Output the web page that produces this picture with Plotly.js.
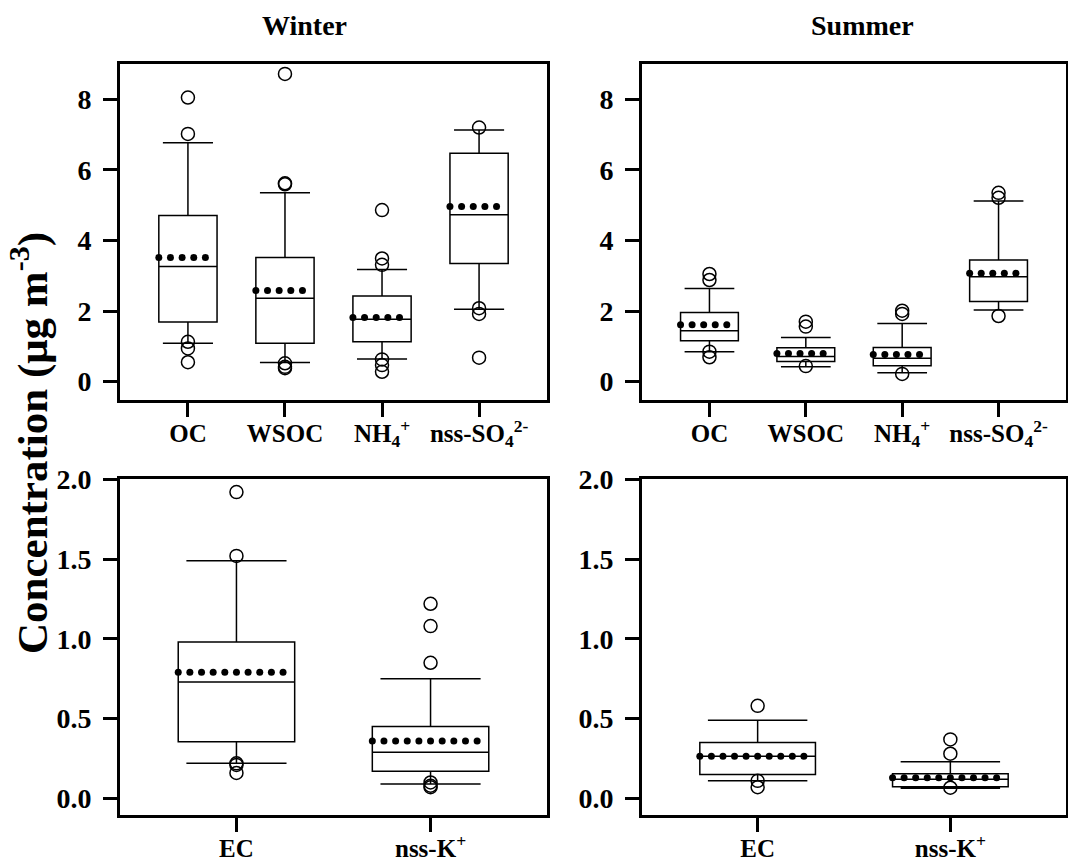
<!DOCTYPE html>
<html><head><meta charset="utf-8">
<script src="https://cdn.plot.ly/plotly-3.0.1.min.js"></script>
<style>html,body{margin:0;padding:0;background:#fff}</style>
</head><body><div id="chart" style="width:1068px;height:865px"></div>
<script>
// ---------- data ----------
const topCategories = ['OC', 'WSOC', 'NH<sub>4</sub><sup>+</sup>', 'nss-SO<sub>4</sub><sup>2-</sup>'];
const bottomCategories = ['EC', 'nss-K<sup>+</sup>'];

// Winter, top panel (µg m-3)
const winterTopLower  = [1.09, 0.54, 0.64, 2.05];
const winterTopQ1     = [1.69, 1.09, 1.13, 3.35];
const winterTopMedian = [3.26, 2.36, 1.77, 4.73];
const winterTopQ3     = [4.71, 3.52, 2.43, 6.47];
const winterTopUpper  = [6.77, 5.35, 3.18, 7.13];
const winterTopMean   = [3.52, 2.58, 1.82, 4.96];
const winterTopOutliers = [
  [8.05, 7.02, 1.13, 0.94, 0.55],
  [8.72, 5.62, 5.59, 0.52, 0.42, 0.38],
  [4.86, 3.49, 3.31, 0.63, 0.47, 0.28],
  [7.20, 2.08, 1.92, 0.68]
];

// Summer, top panel
const summerTopLower  = [0.85, 0.42, 0.25, 2.03];
const summerTopQ1     = [1.16, 0.57, 0.45, 2.27];
const summerTopMedian = [1.44, 0.71, 0.66, 2.97];
const summerTopQ3     = [1.96, 0.96, 0.97, 3.45];
const summerTopUpper  = [2.64, 1.25, 1.65, 5.12];
const summerTopMean   = [1.61, 0.80, 0.77, 3.07];
const summerTopOutliers = [
  [3.05, 2.88, 0.85, 0.69],
  [1.70, 1.56, 0.44],
  [2.01, 1.92, 0.22],
  [5.35, 5.21, 1.86]
];

// Winter, bottom panel
const winterBotLower  = [0.22, 0.09];
const winterBotQ1     = [0.355, 0.17];
const winterBotMedian = [0.73, 0.29];
const winterBotQ3     = [0.98, 0.45];
const winterBotUpper  = [1.49, 0.75];
const winterBotMean   = [0.79, 0.36];
const winterBotOutliers = [
  [1.92, 1.52, 0.22, 0.21, 0.16],
  [1.22, 1.08, 0.85, 0.10, 0.08, 0.07]
];

// Summer, bottom panel
const summerBotLower  = [0.11, 0.063];
const summerBotQ1     = [0.15, 0.073];
const summerBotMedian = [0.265, 0.12];
const summerBotQ3     = [0.35, 0.155];
const summerBotUpper  = [0.49, 0.23];
const summerBotMean   = [0.265, 0.13];
const summerBotOutliers = [
  [0.58, 0.11, 0.07],
  [0.37, 0.28, 0.067]
];

const yTitle = 'Concentration (μg m<sup>-3</sup>)';
const panelTitles = ['Winter', 'Summer'];

// ---------- build ----------
const W = 1068, H = 865;
const FONT = 'Liberation Serif, Times New Roman, serif';
const BOXW = 0.6;
const traces = [];

function addPanel(xa, ya, lower, q1, med, q3, upper, mean, outliers, nDots) {
  const xs = lower.map((_, i) => i);
  traces.push({
    type: 'box', xaxis: xa, yaxis: ya, x: xs,
    lowerfence: lower, q1: q1, median: med, q3: q3, upperfence: upper,
    width: BOXW, whiskerwidth: 0.86, boxpoints: false,
    line: {color: '#000', width: 1.5}, fillcolor: 'rgba(255,255,255,0)',
    hoverinfo: 'skip', showlegend: false
  });
  const ox = [], oy = [];
  outliers.forEach((arr, i) => arr.forEach(v => { ox.push(i); oy.push(v); }));
  traces.push({
    type: 'scatter', mode: 'markers', xaxis: xa, yaxis: ya, x: ox, y: oy,
    marker: {symbol: 'circle-open', size: 13, color: '#000', line: {width: 1.5, color: '#000'}},
    showlegend: false, hoverinfo: 'skip', cliponaxis: false
  });
  const dx = [], dy = [];
  mean.forEach((m, i) => {
    for (let k = 0; k < nDots; k++) { dx.push(i - BOXW / 2 + k * BOXW / nDots); dy.push(m); }
  });
  traces.push({
    type: 'scatter', mode: 'markers', xaxis: xa, yaxis: ya, x: dx, y: dy,
    marker: {symbol: 'circle', size: 7, color: '#000'},
    showlegend: false, hoverinfo: 'skip'
  });
}

addPanel('x', 'y', winterTopLower, winterTopQ1, winterTopMedian, winterTopQ3, winterTopUpper, winterTopMean, winterTopOutliers, 5);
addPanel('x2', 'y2', summerTopLower, summerTopQ1, summerTopMedian, summerTopQ3, summerTopUpper, summerTopMean, summerTopOutliers, 5);
addPanel('x3', 'y3', winterBotLower, winterBotQ1, winterBotMedian, winterBotQ3, winterBotUpper, winterBotMean, winterBotOutliers, 10);
addPanel('x4', 'y4', summerBotLower, summerBotQ1, summerBotMedian, summerBotQ3, summerBotUpper, summerBotMean, summerBotOutliers, 10);

const xTickFont = {family: FONT, size: 25, color: '#000', weight: 700};
const yTickFont = {family: FONT, size: 28, color: '#000', weight: 700};
function xAxis(anchor, domPx, cats, range) {
  return {
    anchor: anchor, domain: [domPx[0] / W, domPx[1] / W], range: range,
    tickmode: 'array', tickvals: cats.map((_, i) => i), ticktext: cats,
    showline: true, mirror: true, linecolor: '#000', linewidth: 3,
    ticks: 'outside', ticklen: 14, tickwidth: 3, tickcolor: '#000',
    showgrid: false, zeroline: false, tickfont: xTickFont, ticklabelstandoff: -5
  };
}
function yAxis(anchor, domPx, range, dtick, fmt) {
  return {
    anchor: anchor, domain: [1 - domPx[1] / H, 1 - domPx[0] / H], range: range,
    tick0: 0, dtick: dtick, tickformat: fmt,
    showline: true, mirror: true, linecolor: '#000', linewidth: 3,
    ticks: 'outside', ticklen: 14, tickwidth: 3, tickcolor: '#000',
    showgrid: false, zeroline: false, tickfont: yTickFont, ticklabelstandoff: 6
  };
}

const leftPx = [120, 547], rightPx = [642, 1066];
const topPx = [64, 400], botPx = [479, 815];

const layout = {
  width: W, height: H, margin: {l: 0, r: 0, t: 0, b: 0},
  paper_bgcolor: '#fff', plot_bgcolor: '#fff', showlegend: false,
  font: {family: FONT, color: '#000'},
  xaxis:  xAxis('y',  leftPx,  topCategories, [-0.7, 3.7]),
  yaxis:  yAxis('x',  topPx,   [-0.52, 9.0], 2, 'd'),
  xaxis2: xAxis('y2', rightPx, topCategories, [-0.7, 3.7]),
  yaxis2: yAxis('x2', topPx,   [-0.52, 9.0], 2, 'd'),
  xaxis3: xAxis('y3', leftPx,  bottomCategories, [-0.6, 1.6]),
  yaxis3: yAxis('x3', botPx,   [-0.104, 2.002], 0.5, '.1f'),
  xaxis4: xAxis('y4', rightPx, bottomCategories, [-0.6, 1.6]),
  yaxis4: yAxis('x4', botPx,   [-0.104, 2.002], 0.5, '.1f'),
  annotations: [
    {text: panelTitles[0], xref: 'paper', yref: 'paper', x: 304 / W, y: 1 - 26 / H,
     xanchor: 'center', yanchor: 'middle',
     showarrow: false, font: {family: FONT, size: 28, weight: 700}},
    {text: panelTitles[1], xref: 'paper', yref: 'paper', x: 862 / W, y: 1 - 26 / H,
     xanchor: 'center', yanchor: 'middle',
     showarrow: false, font: {family: FONT, size: 28, weight: 700}},
    {text: yTitle, xref: 'paper', yref: 'paper', x: 29 / W, y: 1 - 443 / H, textangle: -90,
     xanchor: 'center', yanchor: 'middle',
     showarrow: false, font: {family: FONT, size: 43, weight: 700}}
  ]
};

Plotly.newPlot('chart', traces, layout, {staticPlot: true, displayModeBar: false});
</script>
</body></html>
